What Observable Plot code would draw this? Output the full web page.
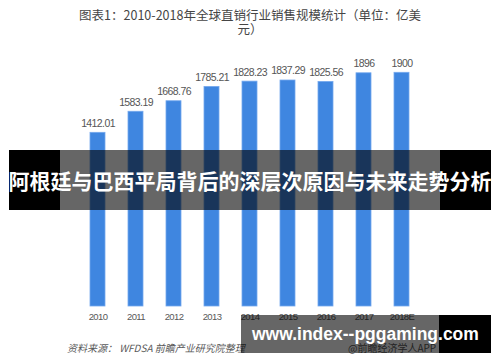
<!DOCTYPE html>
<html><head><meta charset="utf-8">
<script src="https://cdn.jsdelivr.net/npm/d3@7"></script>
<script src="https://cdn.jsdelivr.net/npm/@observablehq/plot@0.6"></script>
<style>
html,body{margin:0;padding:0;background:#fff;}
#wrap{position:relative;width:500px;height:362px;overflow:hidden;font-family:"Noto Sans CJK SC","Noto Sans",sans-serif;}
#title{position:absolute;left:0;top:8px;width:500px;text-align:center;font-size:12.5px;line-height:13.5px;color:#454545;}
.ov{position:absolute;}
#bannerText{position:absolute;left:0;top:150px;width:500px;height:60px;line-height:60px;text-align:center;color:#fff;font-weight:bold;font-size:21px;white-space:nowrap;font-family:"Noto Sans CJK SC",sans-serif;}
#src{position:absolute;left:67px;top:340px;font-size:10px;font-style:italic;color:#595959;white-space:nowrap;}
#src2{position:absolute;left:348px;top:340px;font-size:10px;color:#595959;white-space:nowrap;}
#url{position:absolute;left:252px;top:315px;height:38px;line-height:38px;color:#fff;font-weight:bold;font-size:17.5px;white-space:nowrap;font-family:"Liberation Sans",Arial,sans-serif;}
</style></head>
<body>
<div id="wrap">
<div id="chart"></div>
<div id="title">图表1：2010-2018年全球直销行业销售规模统计（单位：亿美<br>元）</div>
<div id="src">资料来源： WFDSA 前瞻产业研究院整理</div>
<div id="src2">@前瞻经济学人APP</div>
<div class="ov" style="left:9px;top:150px;width:51px;height:60px;background:#000;"></div>
<div class="ov" style="left:60px;top:150px;width:380px;height:60px;background:rgba(0,0,0,0.6);"></div>
<div class="ov" style="left:440px;top:150px;width:51px;height:60px;background:#000;"></div>
<div id="bannerText">阿根廷与巴西平局背后的深层次原因与未来走势分析</div>
<div class="ov" style="left:241px;top:315px;width:198px;height:38px;background:rgba(0,0,0,0.6);"></div>
<div class="ov" style="left:439px;top:315px;width:52px;height:38px;background:#000;"></div>
<div id="url">www.index--pggaming.com</div>
</div>
<script>
const years = ["2010","2011","2012","2013","2014","2015","2016","2017","2018E"];
const values = [1412.01,1583.19,1668.76,1785.21,1828.23,1837.29,1825.56,1896,1900];
const valueLabels = ["1412.01","1583.19","1668.76","1785.21","1828.23","1837.29","1825.56","1896","1900"];

const data = years.map((y,i)=>({year:y, value:values[i], label:valueLabels[i]}));

const chart = Plot.plot({
  width:500, height:362,
  marginTop:60, marginBottom:56, marginLeft:77, marginRight:78,
  style:{fontFamily:"'Liberation Sans', Arial, sans-serif", background:"transparent", letterSpacing:"-0.6px"},
  x:{domain:years, paddingInner:0.6, paddingOuter:0.3, label:null},
  y:{domain:[0,2000], axis:null},
  marks:[
    Plot.barY(data,{x:"year", y:"value", fill:"#3f86e0", stroke:"#74a8ee", strokeWidth:0.8}),
    Plot.text(data,{x:"year", y:"value", text:"label", dy:-9.5, fontSize:10.5, fill:"#555"}),
    Plot.axisX({tickSize:0, tickPadding:7, fontSize:9.5, color:"#595959"})
  ]
});
document.getElementById("chart").appendChild(chart);
</script>
</body></html>
